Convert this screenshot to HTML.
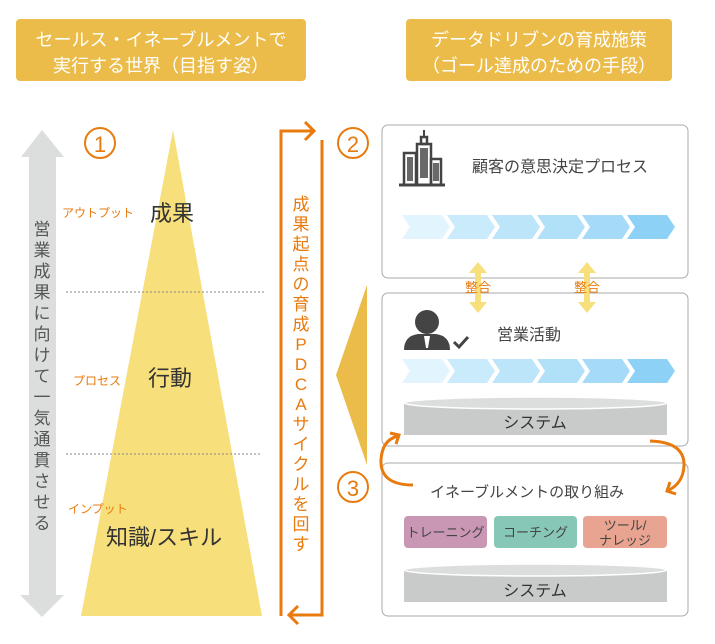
<!DOCTYPE html>
<html><head><meta charset="utf-8"><style>
body{margin:0;background:#fff;}
svg text{font-family:"Liberation Sans","Noto Sans CJK JP",sans-serif;}
</style></head><body>
<svg width="715" height="639" viewBox="0 0 715 639" xmlns="http://www.w3.org/2000/svg">
<defs>
<g id="chev">
<polygon points="0,0 40,0 48,12 40,24 0,24 8,12"/>
</g>
</defs>
<!-- title boxes -->
<rect x="16" y="19" width="290" height="62" rx="4" fill="#EBBC4A"/>
<text x="161" y="46" text-anchor="middle" font-size="18" fill="#fff">セールス・イネーブルメントで</text>
<text x="161" y="72" text-anchor="middle" font-size="18" fill="#fff">実行する世界（目指す姿）</text>
<rect x="406" y="19" width="266" height="62" rx="4" fill="#EBBC4A"/>
<text x="539" y="46" text-anchor="middle" font-size="18" fill="#fff">データドリブンの育成施策</text>
<text x="539" y="72" text-anchor="middle" font-size="18" fill="#fff">（ゴール達成のための手段）</text>

<!-- grey double arrow -->
<polygon points="42,130 64,157 56,157 56,595 64,595 42,617 20,595 29,595 29,157 21,157" fill="#DCDDDD"/>
<text font-size="17" fill="#555" text-anchor="middle">
<tspan x="42" y="235">営</tspan><tspan x="42" y="256">業</tspan><tspan x="42" y="277">成</tspan><tspan x="42" y="298">果</tspan><tspan x="42" y="319">に</tspan><tspan x="42" y="340">向</tspan><tspan x="42" y="361">け</tspan><tspan x="42" y="382">て</tspan><tspan x="42" y="403">一</tspan><tspan x="42" y="424">気</tspan><tspan x="42" y="445">通</tspan><tspan x="42" y="466">貫</tspan><tspan x="42" y="487">さ</tspan><tspan x="42" y="508">せ</tspan><tspan x="42" y="529">る</tspan>
</text>

<!-- triangle -->
<polygon points="173,130 262,616 81,616" fill="#F7DF7C"/>
<line x1="66" y1="292" x2="264" y2="292" stroke="#888" stroke-width="1" stroke-dasharray="2,2"/>
<line x1="66" y1="454" x2="262" y2="454" stroke="#888" stroke-width="1" stroke-dasharray="2,2"/>
<circle cx="100" cy="143" r="15" fill="none" stroke="#E87A0E" stroke-width="2"/>
<text x="100" y="152" text-anchor="middle" font-size="22" fill="#E87A0E">1</text>
<text x="62" y="217" font-size="12" fill="#E87A0E">アウトプット</text>
<text x="150" y="221" font-size="22" fill="#333">成果</text>
<text x="73" y="385" font-size="12" fill="#E87A0E">プロセス</text>
<text x="148" y="386" font-size="22" fill="#333">行動</text>
<text x="68" y="513" font-size="12" fill="#E87A0E">インプット</text>
<text x="106" y="545" font-size="22" fill="#333">知識/スキル</text>

<!-- orange bracket -->
<polyline points="281,616 281,131 313,131" fill="none" stroke="#E87A0E" stroke-width="3"/>
<polyline points="305,122 314,131 305,140" fill="none" stroke="#E87A0E" stroke-width="3"/>
<polyline points="322,140 322,615 289,615" fill="none" stroke="#E87A0E" stroke-width="3"/>
<polyline points="298,606 289,615 298,624" fill="none" stroke="#E87A0E" stroke-width="3"/>
<text font-size="17" fill="#E87A0E" text-anchor="middle">
<tspan x="301" y="210">成</tspan><tspan x="301" y="230">果</tspan><tspan x="301" y="250">起</tspan><tspan x="301" y="270">点</tspan><tspan x="301" y="290">の</tspan><tspan x="301" y="310">育</tspan><tspan x="301" y="330">成</tspan><tspan x="301" y="350">P</tspan><tspan x="301" y="370">D</tspan><tspan x="301" y="390">C</tspan><tspan x="301" y="410">A</tspan><tspan x="301" y="430">サ</tspan><tspan x="301" y="450">イ</tspan><tspan x="301" y="470">ク</tspan><tspan x="301" y="490">ル</tspan><tspan x="301" y="510">を</tspan><tspan x="301" y="530">回</tspan><tspan x="301" y="550">す</tspan>
</text>

<!-- gold pointer -->
<polygon points="367,285 336,375 367,465" fill="#EBBC4A"/>
<circle cx="353" cy="143" r="15" fill="none" stroke="#E87A0E" stroke-width="2"/>
<text x="353" y="152" text-anchor="middle" font-size="22" fill="#E87A0E">2</text>
<circle cx="353" cy="487" r="15" fill="none" stroke="#E87A0E" stroke-width="2"/>
<text x="353" y="496" text-anchor="middle" font-size="22" fill="#E87A0E">3</text>

<!-- boxes -->
<rect x="382" y="125" width="306" height="153" rx="6" fill="#fff" stroke="#aaa"/>
<rect x="382" y="293" width="306" height="153" rx="6" fill="#fff" stroke="#aaa"/>
<rect x="382" y="463" width="306" height="153" rx="6" fill="#fff" stroke="#aaa"/>

<!-- building icon -->
<g fill="none" stroke="#444" stroke-width="2.5">
<rect x="404" y="153" width="12" height="32"/>
<rect x="417" y="144" width="14" height="41"/>
<rect x="431" y="159" width="10" height="26"/>
<rect x="421" y="137" width="6" height="7"/>
</g>
<line x1="424" y1="130" x2="424" y2="137" stroke="#444" stroke-width="2"/>
<line x1="399" y1="185" x2="445" y2="185" stroke="#444" stroke-width="3"/>
<g fill="#444"><rect x="407" y="157" width="6" height="24" opacity=".8"/><rect x="420" y="148" width="8" height="30" opacity=".8"/><rect x="433" y="163" width="6" height="18" opacity=".8"/></g>
<text x="472" y="172" font-size="16" fill="#444">顧客の意思決定プロセス</text>

<!-- chevrons row 1 -->
<g>
<use href="#chev" x="402" y="215" fill="#E2F4FD"/>
<use href="#chev" x="447" y="215" fill="#CAEBFB"/>
<use href="#chev" x="492" y="215" fill="#BDE5FA"/>
<use href="#chev" x="537" y="215" fill="#B1E0F9"/>
<use href="#chev" x="582" y="215" fill="#A5DBF8"/>
<use href="#chev" x="627" y="215" fill="#8DD2F6"/>
</g>

<!-- 整合 arrows -->
<g fill="#F7DF7C">
<polygon points="478,262 487,273 481,273 481,302 487,302 478,313 469,302 475,302 475,273 469,273"/>
<polygon points="587,262 596,273 590,273 590,302 596,302 587,313 578,302 584,302 584,273 578,273"/>
</g>
<text x="478" y="292" text-anchor="middle" font-size="13" fill="#E87A0E">整合</text>
<text x="587" y="292" text-anchor="middle" font-size="13" fill="#E87A0E">整合</text>

<!-- person -->
<circle cx="427" cy="322" r="12" fill="#444"/>
<path d="M404,350 Q404,336 418,334 L436,334 Q450,336 450,350 Z" fill="#444"/>
<polygon points="424,336 430,336 428,348 426,348" fill="#fff"/>
<polyline points="454,342 459,347 468,337" fill="none" stroke="#444" stroke-width="3"/>
<text x="497" y="340" font-size="16" fill="#444">営業活動</text>

<g>
<use href="#chev" x="402" y="359" fill="#E2F4FD"/>
<use href="#chev" x="447" y="359" fill="#CAEBFB"/>
<use href="#chev" x="492" y="359" fill="#BDE5FA"/>
<use href="#chev" x="537" y="359" fill="#B1E0F9"/>
<use href="#chev" x="582" y="359" fill="#A5DBF8"/>
<use href="#chev" x="627" y="359" fill="#8DD2F6"/>
</g>

<!-- system 1 -->
<rect x="404" y="403" width="263" height="32" fill="#C9CACA"/>
<ellipse cx="535.5" cy="403" rx="131.5" ry="6" fill="#DCDDDD" stroke="#fff" stroke-width="1.5"/>
<text x="535" y="428" text-anchor="middle" font-size="16" fill="#333">システム</text>

<!-- curved arrows -->
<path d="M413,485 Q380,485 381,460 Q382,440 398,436" fill="none" stroke="#E87A0E" stroke-width="3"/>
<polyline points="390,433 399,435 396,444" fill="none" stroke="#E87A0E" stroke-width="3"/>
<path d="M650,441 Q685,442 684,466 Q683,484 667,491" fill="none" stroke="#E87A0E" stroke-width="3"/>
<polyline points="670,482 667,491 676,494" fill="none" stroke="#E87A0E" stroke-width="3"/>

<text x="430" y="497" font-size="15" fill="#444">イネーブルメントの取り組み</text>
<rect x="404" y="516" width="83" height="32" rx="4" fill="#C996B4"/>
<rect x="494" y="516" width="83" height="32" rx="4" fill="#86C7B8"/>
<rect x="583" y="516" width="84" height="32" rx="4" fill="#E8A391"/>
<text x="445.5" y="537" text-anchor="middle" font-size="13" fill="#444">トレーニング</text>
<text x="535.5" y="537" text-anchor="middle" font-size="13" fill="#444">コーチング</text>
<text x="625" y="530" text-anchor="middle" font-size="13" fill="#444">ツール/</text>
<text x="625" y="545" text-anchor="middle" font-size="13" fill="#444">ナレッジ</text>

<!-- system 2 -->
<rect x="404" y="570" width="263" height="32" fill="#C9CACA"/>
<ellipse cx="535.5" cy="570" rx="131.5" ry="6" fill="#DCDDDD" stroke="#fff" stroke-width="1.5"/>
<text x="535" y="596" text-anchor="middle" font-size="16" fill="#333">システム</text>
</svg>
</body></html>
